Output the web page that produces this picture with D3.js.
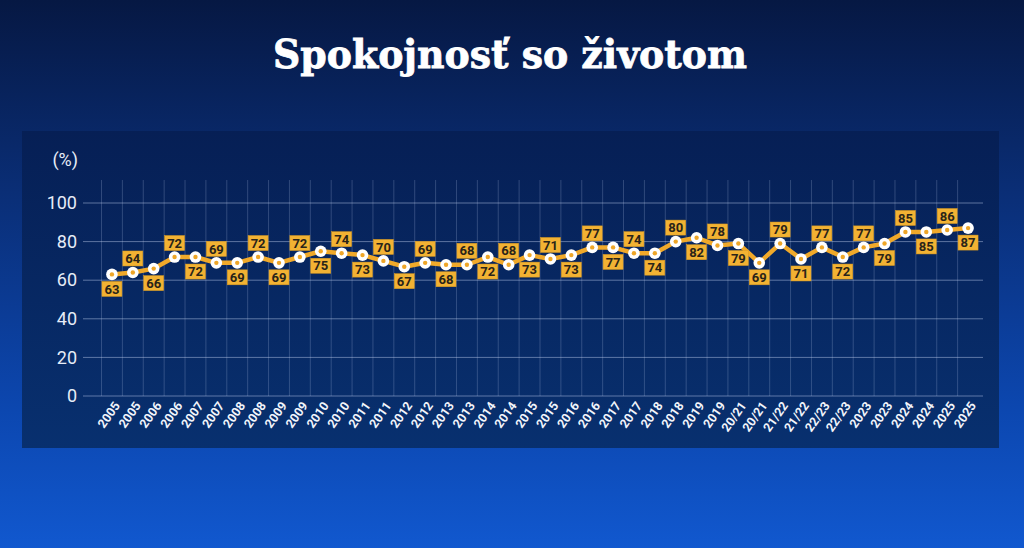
<!DOCTYPE html>
<html>
<head>
<meta charset="utf-8">
<script src="https://cdn.jsdelivr.net/npm/d3@7"></script>
<style>
  html, body { margin: 0; padding: 0; background: #0a2a6a; }
  svg { display: block; }
</style>
</head>
<body>
<svg id="chart"></svg>
<script>
const title = "Spokojnosť so životom";
const unitLabel = "(%)";
const categories = ["2005","2005","2006","2006","2007","2007","2008","2008","2009","2009",
  "2010","2010","2011","2011","2012","2012","2013","2013","2014","2014",
  "2015","2015","2016","2016","2017","2017","2018","2018","2019","2019",
  "20/21","20/21","21/22","21/22","22/23","22/23","2023","2023","2024","2024","2025","2025"];
const values = [63,64,66,72,72,69,69,72,69,72,
  75,74,73,70,67,69,68,68,72,68,
  73,71,73,77,77,74,74,80,82,78,
  79,69,79,71,77,72,77,79,85,85,86,87];
const yTicks = [0, 20, 40, 60, 80, 100];

const width = 1024, height = 548;
const svg = d3.select('#chart').attr('width', width).attr('height', height);
const defs = svg.append('defs');

// background gradient
const bg = defs.append('linearGradient').attr('id', 'bg')
  .attr('x1', 0).attr('y1', 0).attr('x2', 0).attr('y2', 1);
bg.append('stop').attr('offset', '0%').attr('stop-color', '#061843');
bg.append('stop').attr('offset', '35%').attr('stop-color', '#0a2e76');
bg.append('stop').attr('offset', '75%').attr('stop-color', '#0c47b0');
bg.append('stop').attr('offset', '100%').attr('stop-color', '#1158cf');
svg.append('rect').attr('width', width).attr('height', height).attr('fill', 'url(#bg)');

// panel
const pg = defs.append('linearGradient').attr('id', 'panel')
  .attr('x1', 0).attr('y1', 0).attr('x2', 0).attr('y2', 1);
pg.append('stop').attr('offset', '0%').attr('stop-color', '#061f55');
pg.append('stop').attr('offset', '100%').attr('stop-color', '#08306f');
svg.append('rect').attr('x', 22).attr('y', 131).attr('width', 977).attr('height', 317)
  .attr('fill', 'url(#panel)');

svg.append('text')
  .attr('x', 510).attr('y', 68)
  .attr('text-anchor', 'middle')
  .attr('font-family', '"DejaVu Serif", serif')
  .attr('font-weight', 'bold')
  .attr('font-size', 40)
  .attr('textLength', 474).attr('lengthAdjust', 'spacingAndGlyphs')
  .attr('fill', '#ffffff').attr('stroke', '#ffffff').attr('stroke-width', 0.8)
  .text(title);

const x = d3.scaleBand().domain(d3.range(categories.length)).range([101.5, 978.5]);
const y = d3.scaleLinear().domain([0, 100]).range([396, 203]);
const cx = i => x(i) + x.bandwidth() / 2;

// horizontal grid
svg.append('g').selectAll('line').data(yTicks).join('line')
  .attr('x1', 83).attr('x2', 983)
  .attr('y1', d => y(d)).attr('y2', d => y(d))
  .attr('stroke', 'rgba(200,215,245,0.45)').attr('stroke-width', 1);

// vertical grid
svg.append('g').selectAll('line').data(d3.range(categories.length)).join('line')
  .attr('x1', d => x(d)).attr('x2', d => x(d))
  .attr('y1', 180).attr('y2', y(0))
  .attr('stroke', 'rgba(200,215,245,0.22)').attr('stroke-width', 1);

// y axis labels
const yAxis = d3.axisLeft(y).tickValues(yTicks).tickSize(0).tickPadding(0);
const ya = svg.append('g').attr('transform', 'translate(77,0)').call(yAxis);
ya.select('.domain').remove();
ya.selectAll('text')
  .attr('font-family', 'Roboto, sans-serif').attr('font-size', 18)
  .attr('fill', '#e6ecf7');

svg.append('text').attr('x', 78).attr('y', 166).attr('text-anchor', 'end')
  .attr('font-family', 'Roboto, sans-serif').attr('font-size', 18)
  .attr('fill', '#e6ecf7').text(unitLabel);

// x axis labels
svg.append('g').selectAll('text').data(categories).join('text')
  .attr('transform', (d, i) => `translate(${cx(i) + 5},${403}) rotate(-55)`)
  .attr('text-anchor', 'end')
  .attr('dy', '0.35em')
  .attr('font-family', 'Roboto, sans-serif').attr('font-weight', 'bold')
  .attr('font-size', 12.5)
  .attr('fill', '#f2f5fb')
  .text(d => d);

// line
const line = d3.line().x((d, i) => cx(i)).y(d => y(d));
svg.append('path').datum(values)
  .attr('d', line)
  .attr('fill', 'none')
  .attr('stroke', '#f0a92a')
  .attr('stroke-width', 4.5)
  .attr('stroke-linejoin', 'round');

// markers
const pts = svg.append('g').selectAll('g').data(values).join('g')
  .attr('transform', (d, i) => `translate(${cx(i)},${y(d)})`);
pts.append('circle').attr('r', 5.8).attr('fill', '#ffffff');
pts.append('circle').attr('r', 2.2).attr('fill', '#eea628');

// value labels
const above = i => (i <= 30 ? i % 2 === 1 : i % 2 === 0);
const lab = svg.append('g').selectAll('g').data(values).join('g')
  .attr('transform', (d, i) => `translate(${cx(i)},${above(i) ? y(d) - 14 : y(d) + 14.5})`);
lab.append('rect').attr('x', -10).attr('y', -7.5).attr('width', 20).attr('height', 15)
  .attr('fill', '#f2b233').attr('stroke', '#d99a1e').attr('stroke-width', 0.5);
lab.append('text')
  .attr('text-anchor', 'middle').attr('dy', '0.36em')
  .attr('font-family', 'Roboto, sans-serif').attr('font-weight', 'bold')
  .attr('font-size', 13).attr('fill', '#2a2419')
  .text(d => d);
</script>
</body>
</html>
